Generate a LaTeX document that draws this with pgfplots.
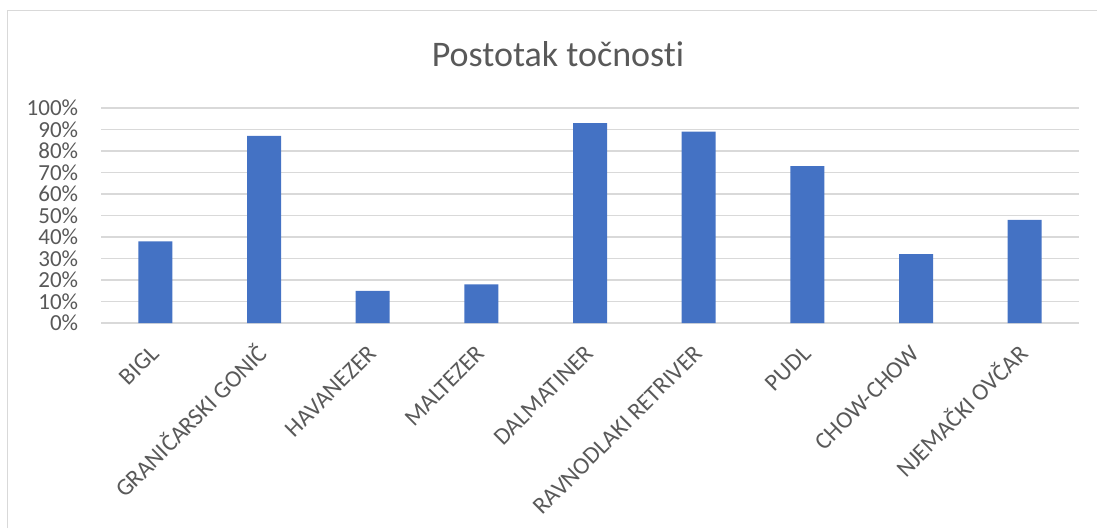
\documentclass[border=0pt]{standalone}
\usepackage{pgfplots}
\pgfplotsset{compat=1.18}
\usepackage{fontspec}
\setmainfont{Carlito}[Ligatures=NoCommon]
\definecolor{barblue}{HTML}{4472C4}
\definecolor{txtgray}{HTML}{595959}
\definecolor{gridgray}{HTML}{D9D9D9}
\begin{document}
\begin{tikzpicture}[x=1pt,y=1pt]
\useasboundingbox (0,0) rectangle (1097,528);
\draw[gridgray, line width=1pt] (7.5,0) -- (7.5,517.5) -- (1097,517.5);
\node[anchor=base, text=txtgray, font=\fontsize{36}{40}\selectfont, inner sep=0pt] at (558,461.3) {Postotak točnosti};
\begin{axis}[
  at={(101pt,205pt)}, anchor=south west,
  width=978pt, height=215pt, scale only axis,
  xmin=-0.5, xmax=8.5, ymin=0, ymax=100,
  ybar, bar width=34pt,
  xtick={0,...,8},
  xticklabels={BIGL, GRANIČARSKI GONIČ, HAVANEZER, MALTEZER, DALMATINER, RAVNODLAKI RETRIVER, PUDL, CHOW-CHOW, NJEMAČKI OVČAR},
  ytick={0,10,...,100},
  yticklabel={\pgfmathprintnumber{\tick}\%},
  /pgf/number format/assume math mode=true,
  ymajorgrids, grid style={gridgray, line width=1.3pt},
  axis line style={draw=none},
  major tick length=0pt,
  tick label style={text=txtgray, font=\fontsize{23}{24}\selectfont},
  yticklabel style={anchor=east, inner sep=0pt, xshift=-22.7pt},
  xticklabel style={font=\fontsize{24}{25}\selectfont, xshift=5pt, yshift=-32pt, rotate=45, anchor=base east, inner sep=0pt},
  clip=false,
]
\addplot[fill=barblue, draw=none] coordinates {(0,38) (1,87) (2,15) (3,18) (4,93) (5,89) (6,73) (7,32) (8,48)};
\end{axis}
\end{tikzpicture}
\end{document}
